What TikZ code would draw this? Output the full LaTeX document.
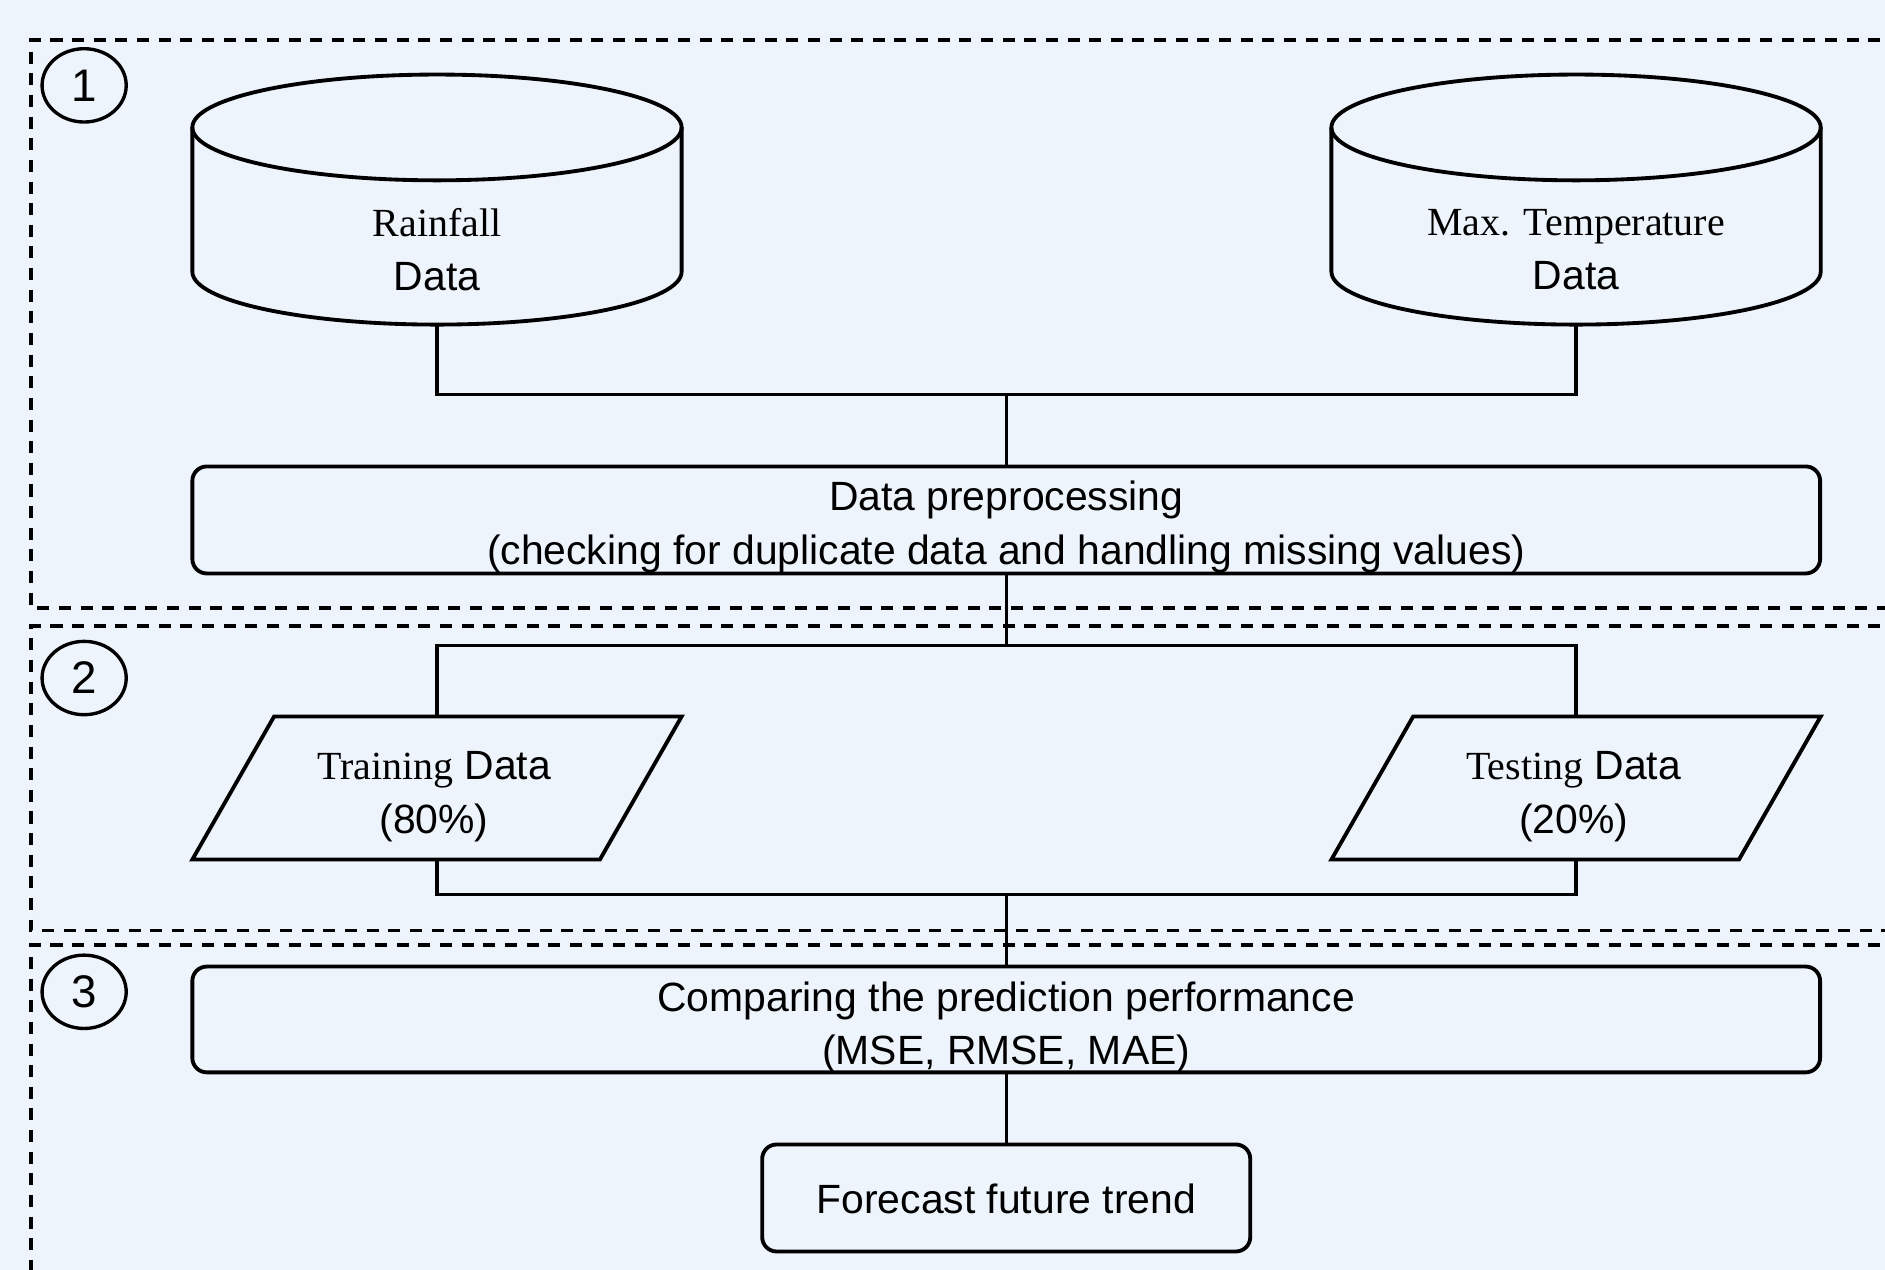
\documentclass[tikz,border=0pt]{standalone}
\usepackage{fontspec}
\setmainfont{Liberation Sans}
\newfontfamily\tms{Liberation Serif}
\usetikzlibrary{shapes.geometric}
\definecolor{bg}{RGB}{238,244,252}
\newcommand\cylout[1]{%
  \draw[shp] ([yshift=-22pt]#1.north west) -- ([yshift=22pt]#1.south west)
    arc[start angle=180,end angle=360,x radius=101.75pt,y radius=22pt]
    -- ([yshift=-22pt]#1.north east);
  \draw[shp] ([yshift=-22pt]#1.north) ellipse [x radius=101.75pt, y radius=22pt];}
\newcommand\paraout[1]{%
  \draw[shp] ([xshift=34pt]#1.north west) -- (#1.north east)
    -- ([xshift=-34pt]#1.south east) -- (#1.south west) -- cycle;}
\newcommand\serif[1]{{\tms\fontsize{16.6pt}{22.3pt}\selectfont #1}}
\begin{document}
\begin{tikzpicture}[x=0.5pt,y=-0.5pt,
  every node/.style={inner sep=0pt, outer sep=0pt},
  txt/.style={font=\fontsize{17pt}{22.3pt}\selectfont, align=center},
  shp/.style={draw=black, line width=1.6pt},
  conn/.style={draw=black, line width=1.4pt},
  zone/.style={draw=black, line width=1.6pt, dash pattern=on 5pt off 4pt},
  procbox/.style={shp, rounded corners=6pt},
  num/.style={draw, ellipse, line width=1.4pt, minimum width=35pt, minimum height=30.5pt, font=\fontsize{19pt}{19pt}\selectfont},
  ghost/.style={draw=none}
]
\fill[bg] (0,0) rectangle (1568,1056);
\clip (0,0) rectangle (1568,1056);

% zones
\draw[zone] (1600,33) -- (26,33) -- (26,506) -- (1600,506);
\draw[zone] (1600,521) -- (26,521) -- (26,774) -- (1600,774);
\draw[zone] (1600,786) -- (26,786) -- (26,1100);

% zone numbers
\node[num] (n1) at (70,71) {1};
\node[num] (n2) at (70,564) {2};
\node[num] (n3) at (70,825) {3};

% data stores
\node[ghost, minimum width=203.5pt, minimum height=104pt] (rain) at (363.5,166) {};
\node[ghost, minimum width=203.5pt, minimum height=104pt] (temp) at (1311,166) {};
\cylout{rain}
\cylout{temp}
\node[txt] (raintxt) at (363.5,207.5) {\serif{Rainfall}\\Data};
\node[txt] (temptxt) at (1311,207.5) {\serif{Max. Temperature}\\Data};

% preprocessing
\node[procbox, minimum width=677pt, minimum height=44.5pt] (prep) at (837,432.5) {};
\node[txt] (preptxt) at (837,438.5)
  {Data preprocessing\\(checking for duplicate data and handling missing values)};

% split
\node[ghost, minimum width=203.5pt, minimum height=59.5pt] (train) at (363.5,655.5) {};
\node[ghost, minimum width=203.5pt, minimum height=59.5pt] (test) at (1311,655.5) {};
\paraout{train}
\paraout{test}
\node[txt] (traintxt) at (361,662.5) {\serif{Training} Data\\(80\%)};
\node[txt] (testtxt) at (1309,662.5) {\serif{Testing} Data\\(20\%)};

% evaluation
\node[procbox, minimum width=677pt, minimum height=44pt] (comp) at (837,848) {};
\node[txt] (comptxt) at (837,854.5) {Comparing the prediction performance\\(MSE, RMSE, MAE)};
\node[procbox, minimum width=203pt, minimum height=44.5pt] (fore) at (837,996.5) {};
\node[txt] (foretxt) at (837,997.5) {Forecast future trend};

% junctions
\coordinate (j1) at (837,328);
\coordinate (j2) at (837,537);
\coordinate (j3) at (837,744);

% connectors
\draw[conn] (rain.south) |- (j1) -| (temp.south);
\draw[conn] (j1) -- (prep.north);
\draw[conn] (prep.south) -- (j2);
\draw[conn] (train.north) |- (j2) -| (test.north);
\draw[conn] (train.south) |- (j3) -| (test.south);
\draw[conn] (j3) -- (comp.north);
\draw[conn] (comp.south) -- (fore.north);
\end{tikzpicture}
\end{document}
